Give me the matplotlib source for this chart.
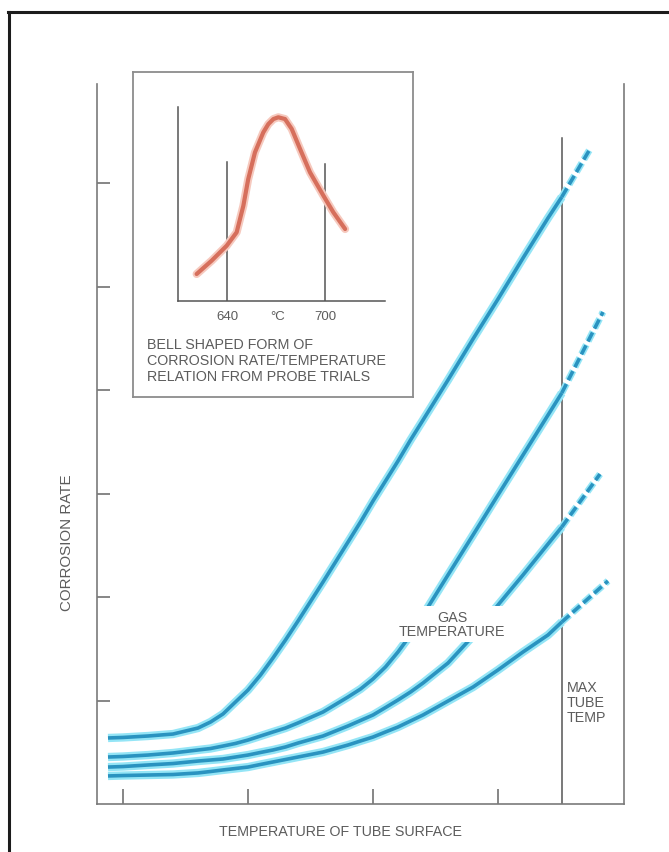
import matplotlib
matplotlib.use("Agg")
import matplotlib.pyplot as plt
from matplotlib.lines import Line2D

# ---------------------------------------------------------------
# Corrosion rate vs. tube-surface temperature, four gas temperatures
# ---------------------------------------------------------------
surface_temp = [0.88, 1.0, 1.2, 1.4, 1.6, 1.7, 1.8, 1.9, 2.0, 2.1, 2.2, 2.3,
                2.4, 2.6, 2.8, 2.9, 3.0, 3.1, 3.2, 3.3, 3.4, 3.6, 3.8, 4.0,
                4.2, 4.4, 4.51]

rate_gas_1 = [0.638, 0.643, 0.657, 0.676, 0.734, 0.792, 0.870, 0.986, 1.101,
              1.246, 1.411, 1.585, 1.768, 2.145, 2.531, 2.725, 2.928, 3.121,
              3.314, 3.517, 3.710, 4.097, 4.493, 4.879, 5.275, 5.662, 5.865]
rate_gas_2 = [0.454, 0.459, 0.473, 0.493, 0.522, 0.536, 0.560, 0.585, 0.618,
              0.657, 0.696, 0.734, 0.783, 0.889, 1.034, 1.111, 1.208, 1.324,
              1.469, 1.633, 1.826, 2.213, 2.599, 2.986, 3.372, 3.758, 3.971]
rate_gas_3 = [0.357, 0.362, 0.377, 0.391, 0.415, 0.425, 0.435, 0.454, 0.473,
              0.498, 0.522, 0.551, 0.589, 0.657, 0.754, 0.807, 0.860, 0.932,
              1.005, 1.082, 1.169, 1.362, 1.623, 1.923, 2.213, 2.512, 2.676]
rate_gas_4 = [0.271, 0.275, 0.280, 0.285, 0.300, 0.314, 0.329, 0.343, 0.357,
              0.382, 0.406, 0.430, 0.454, 0.502, 0.570, 0.609, 0.647, 0.696,
              0.744, 0.802, 0.860, 0.995, 1.130, 1.295, 1.469, 1.633, 1.758]

# extrapolated (dashed) end points beyond the max tube temperature
extrap_temp = [4.736, 4.84, 4.816, 4.88]
extrap_rate = [6.329, 4.754, 3.188, 2.155]

max_tube_temp = 4.51
max_tube_line_top = 6.435
x_ticks = [1, 2, 3, 4]
y_ticks = [1, 2, 3, 4, 5, 6]

# probe trials: bell-shaped corrosion rate / temperature relation
probe_temp = [621.4, 630.6, 639.8, 645.9, 650.0, 653.0, 657.1, 662.2, 665.3,
              668.4, 671.4, 675.5, 679.6, 684.7, 690.8, 699.0, 705.1, 712.3]
probe_rate = [0.139, 0.208, 0.285, 0.354, 0.491, 0.629, 0.766, 0.869, 0.912,
              0.938, 0.947, 0.938, 0.887, 0.784, 0.663, 0.543, 0.457, 0.371]
probe_bounds = [640, 700]
probe_bound_tops = [0.716, 0.706]
probe_tick_pos = [640, 671, 700]
probe_tick_labels = ["640", "°C", "700"]

# ---------------------------------------------------------------
W, H = 669, 853
fig = plt.figure(figsize=(W / 100, H / 100), dpi=100, facecolor="white")


def fx(px):
    return px / W


def fy(py):
    return 1 - py / H


FONT = ["Liberation Sans", "DejaVu Sans"]
TXT = "#5c5c5c"
FS = 10.3

# outer frame (top and left edges)
fig.add_artist(Line2D([fx(8), 1.0], [fy(13), fy(13)], color="#1c1c1c", lw=2.2,
                      transform=fig.transFigure))
fig.add_artist(Line2D([fx(9), fx(9)], [fy(13), 0.0], color="#1c1c1c", lw=2.2,
                      transform=fig.transFigure))

# main axes
ax = fig.add_axes([fx(97), fy(805), (624 - 97) / W, (805 - 85) / H])
ax.set_xlim(0.792, 5.008)
ax.set_ylim(0, 6.957)
ax.set_facecolor("none")
for side in ("left", "right", "bottom"):
    ax.spines[side].set_color("#7a7a7a")
    ax.spines[side].set_linewidth(1.2)
ax.spines["top"].set_visible(False)
ax.set_xticks(x_ticks)
ax.set_yticks(y_ticks)
ax.tick_params(axis="x", direction="in", length=11, width=1.1, color="#666666",
               labelbottom=False)
ax.tick_params(axis="y", direction="in", length=9.5, width=1.1, color="#666666",
               labelleft=False)

ax.plot([max_tube_temp, max_tube_temp], [0, max_tube_line_top],
        color="#555555", lw=1.1, zorder=2)

GLOW = "#94e5f6"
CORE = "#2a93c0"
curves = [rate_gas_1, rate_gas_2, rate_gas_3, rate_gas_4]
for rates, ex, ey in zip(curves, extrap_temp, extrap_rate):
    ax.plot(surface_temp, rates, color=GLOW, lw=6.0, solid_capstyle="butt",
            solid_joinstyle="round", zorder=3)
    ax.plot(surface_temp, rates, color=CORE, lw=2.6, solid_capstyle="butt",
            solid_joinstyle="round", zorder=4)
    seg_x = [surface_temp[-1], ex]
    seg_y = [rates[-1], ey]
    g, = ax.plot(seg_x, seg_y, color=GLOW, lw=5.0, zorder=3,
                 dash_capstyle="butt")
    g.set_dashes([1.5, 0.6])
    c, = ax.plot(seg_x, seg_y, color=CORE, lw=2.6, zorder=4,
                 dash_capstyle="butt")
    c.set_dashes([2.8, 1.2])

# label that interrupts the two middle curves
fig.text(fx(452), fy(625), "GAS\nTEMPERATURE", ha="center", va="center",
         fontsize=FS, color=TXT, family=FONT, linespacing=1.0, zorder=10,
         bbox=dict(fc="white", ec="none", pad=3.2))

fig.text(fx(567), fy(703), "MAX\nTUBE\nTEMP", ha="left", va="center",
         fontsize=FS, color=TXT, family=FONT, linespacing=1.05)

fig.text(fx(341), fy(832), "TEMPERATURE OF TUBE SURFACE", ha="center",
         va="center", fontsize=FS, color=TXT, family=FONT)
fig.text(fx(67), fy(543), "CORROSION RATE", ha="center", va="center",
         rotation=90, fontsize=FS + 0.6, color=TXT, family=FONT)

# inset box
box = fig.add_axes([fx(133), fy(398), (413 - 133) / W, (398 - 73) / H])
box.set_facecolor("white")
box.set_xticks([])
box.set_yticks([])
for s in box.spines.values():
    s.set_color("#8c8c8c")
    s.set_linewidth(1.3)

inner = fig.add_axes([fx(178), fy(302), (385 - 178) / W, (302 - 108) / H])
inner.set_facecolor("none")
inner.set_xlim(610, 736.7)
inner.set_ylim(0, 1)
inner.set_xticks([])
inner.set_yticks([])
for side in ("top", "right"):
    inner.spines[side].set_visible(False)
for side in ("left", "bottom"):
    inner.spines[side].set_color("#555555")
    inner.spines[side].set_linewidth(1.1)

for xb, top in zip(probe_bounds, probe_bound_tops):
    inner.plot([xb, xb], [0, top], color="#555555", lw=1.1, zorder=2)

inner.plot(probe_temp, probe_rate, color="#f6c9be", lw=5.8,
           solid_capstyle="round", solid_joinstyle="round", zorder=3)
inner.plot(probe_temp, probe_rate, color="#d66f5c", lw=3.0,
           solid_capstyle="round", solid_joinstyle="round", zorder=4)

for xp, lab in zip(probe_tick_pos, probe_tick_labels):
    inner.text(xp, -0.077, lab, ha="center", va="center", fontsize=FS - 0.8,
               color=TXT, family=FONT, clip_on=False)

for py, line in zip([345, 361, 377],
                    ["BELL SHAPED FORM OF",
                     "CORROSION RATE/TEMPERATURE",
                     "RELATION FROM PROBE TRIALS"]):
    fig.text(fx(147), fy(py), line, ha="left", va="center", fontsize=FS,
             color=TXT, family=FONT)

fig.savefig("out.png", dpi=100, facecolor="white")
